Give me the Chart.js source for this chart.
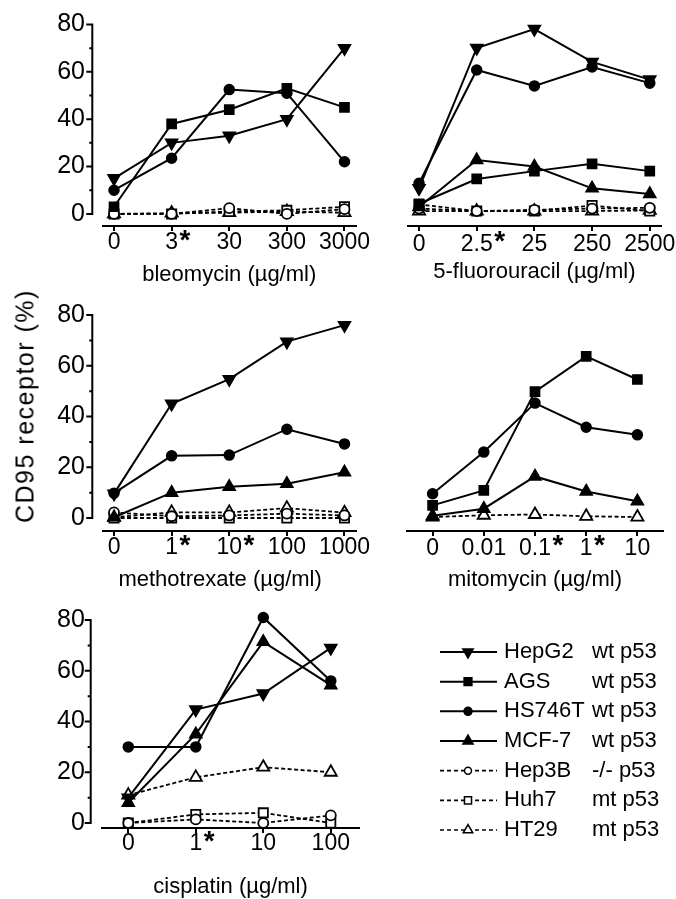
<!DOCTYPE html>
<html>
<head>
<meta charset="utf-8">
<script src="https://cdn.jsdelivr.net/npm/chart.js@4.4.1/dist/chart.umd.min.js"></script>
<style>
  html, body { margin: 0; padding: 0; background: #fff; }
  body { width: 676px; height: 899px; position: relative; overflow: hidden; }
  canvas { position: absolute; }
  #ylab {
    position: absolute; left: 25px; top: 406px;
    font-family: 'Liberation Sans', Arial, sans-serif; font-size: 25px; letter-spacing: 1.5px;
    white-space: nowrap; color: #000;
    transform: translate(-50%, -50%) rotate(-90deg);
  }
</style>
</head>
<body>
<canvas id="bleo"></canvas>
<canvas id="fu"></canvas>
<canvas id="mtx"></canvas>
<canvas id="mito"></canvas>
<canvas id="cis"></canvas>
<div id="ylab">CD95 receptor (%)</div>
<script>
// cell lines, in legend order
var lines = ['HepG2', 'AGS', 'HS746T', 'MCF-7', 'Hep3B', 'Huh7', 'HT29'];
var p53 = ['wt p53', 'wt p53', 'wt p53', 'wt p53', '-/- p53', 'mt p53', 'mt p53'];

// dose labels per drug, starred doses by index
var bleoDoses = ['0', '3', '30', '300', '3000'];
var bleoStars = [1];
var fuDoses = ['0', '2.5', '25', '250', '2500'];
var fuStars = [1];
var mtxDoses = ['0', '1', '10', '100', '1000'];
var mtxStars = [1, 2];
var mitoDoses = ['0', '0.01', '0.1', '1', '10'];
var mitoStars = [2, 3];
var cisDoses = ['0', '1', '10', '100'];
var cisStars = [1];

// CD95 receptor (%) per cell line, same order as lines (null = not tested)
var bleoValues = [
  [15, 30, 33, 40, 70],
  [3, 38, 44, 53, 45],
  [10, 23.5, 52.5, 51, 22],
  null,
  [0, 0, 2.4, 0, 2],
  [0, 0, 1, 1.5, 3],
  [0, 0.3, 0.5, 1, 0.5]
];
var fuValues = [
  [9, 64.5, 72, 59, 52],
  [2.9, 12.7, 15.8, 18.7, 15.8],
  [11, 55.8, 49.5, 57, 50.6],
  [1.6, 20.2, 17.6, 9, 6.8],
  [1, 0, 0.5, 1, 1.3],
  [2.6, 0, 0, 2.2, 0],
  [0, 0, 0, 0, 0.3]
];
var mtxValues = [
  [9.6, 45, 54.7, 69.5, 76],
  null,
  [9.8, 24.5, 24.8, 35, 29.2],
  [0.3, 10, 12.3, 13.5, 18],
  [2.2, 0.7, 1, 1.7, 1],
  [0, 0, 0, 0, 0],
  [0.3, 2.2, 2.2, 3.9, 2.1]
];
var mitoValues = [
  null,
  [4.6, 10.5, 49.4, 63.3, 54.2],
  [9.2, 25.6, 44.9, 35.4, 32.4],
  [0.5, 3.3, 16, 10.1, 6.2],
  null,
  null,
  [0, 0.7, 1, 0.3, 0]
];
var cisValues = [
  [10, 44.7, 51, 69],
  null,
  [30, 30, 81, 56],
  [8, 35, 71.4, 54.3],
  [0, 1.4, 0, 3],
  [0, 3.4, 4, 0],
  [11, 18, 22, 20]
];

var FONT = "'Liberation Sans', Arial, sans-serif";

// marker look for each cell line
var styles = [
  { pointStyle: 'triangle', rotation: 180, radius: 7, fill: true, dashed: false },
  { pointStyle: 'rect', rotation: 0, radius: 6.5, fill: true, dashed: false },
  { pointStyle: 'circle', rotation: 0, radius: 5, fill: true, dashed: false },
  { pointStyle: 'triangle', rotation: 0, radius: 7, fill: true, dashed: false },
  { pointStyle: 'circle', rotation: 0, radius: 5, fill: false, dashed: true },
  { pointStyle: 'rect', rotation: 0, radius: 6.5, fill: false, dashed: true },
  { pointStyle: 'triangle', rotation: 0, radius: 7, fill: false, dashed: true }
];

// detached y axis with major/minor ticks
var yAxisLine = {
  id: 'yAxisLine',
  beforeDatasetsDraw: function(chart, args, opts) {
    if (!opts.show) return;
    var y = chart.scales.y, ctx = chart.ctx;
    var x0 = chart.chartArea.left - opts.gap;
    ctx.save();
    ctx.strokeStyle = '#000';
    ctx.lineWidth = 2;
    ctx.beginPath();
    ctx.moveTo(x0, y.getPixelForValue(0) + 1);
    ctx.lineTo(x0, y.getPixelForValue(80) - 1);
    for (var v = 0; v <= 80; v += 10) {
      var py = y.getPixelForValue(v);
      ctx.moveTo(x0 + 1, py);
      ctx.lineTo(x0 - (v % 20 === 0 ? 6 : 3), py);
    }
    ctx.stroke();
    ctx.restore();
  }
};

// bold asterisk after significant doses
var starMarks = {
  id: 'starMarks',
  afterDraw: function(chart, args, opts) {
    var sc = chart.scales.x, ctx = chart.ctx;
    ctx.save();
    ctx.fillStyle = '#000';
    ctx.textBaseline = 'middle';
    ctx.textAlign = 'left';
    opts.stars.forEach(function(i) {
      ctx.font = opts.size + 'px ' + FONT;
      var w = ctx.measureText(opts.labels[i]).width;
      var x = sc.getPixelForValue(i) + w / 2 + 1.5;
      ctx.font = 'bold 28px ' + FONT;
      ctx.fillText('*', x, opts.y);
    });
    ctx.restore();
  }
};

// legend drawn next to the cisplatin panel
var sideLegend = {
  id: 'sideLegend',
  afterDraw: function(chart, args, opts) {
    if (!opts.show) return;
    var ctx = chart.ctx;
    ctx.save();
    lines.forEach(function(name, i) {
      var st = styles[i];
      var y = opts.y0 + i * opts.step;
      ctx.strokeStyle = '#000';
      ctx.lineWidth = st.dashed ? 1.7 : 2;
      ctx.setLineDash(st.dashed ? [4, 3] : []);
      ctx.beginPath();
      ctx.moveTo(440, y);
      ctx.lineTo(497, y);
      ctx.stroke();
      ctx.setLineDash([]);
      ctx.fillStyle = st.fill ? '#000' : '#fff';
      ctx.lineWidth = 1.5;
      Chart.helpers.drawPoint(ctx, {
        pointStyle: st.pointStyle, rotation: st.rotation,
        radius: st.fill ? st.radius - 1 : st.radius - 1.5, borderWidth: 1.5
      }, 468, y);
      ctx.fillStyle = '#000';
      ctx.font = '22px ' + FONT;
      ctx.textBaseline = 'middle';
      ctx.fillText(name, 504, y);
      ctx.fillText(p53[i], 592, y);
    });
    ctx.restore();
  }
};

function makePanel(id, p) {
  var el = document.getElementById(id);
  el.width = p.w; el.height = p.h;
  el.style.left = p.left + 'px'; el.style.top = p.top + 'px';
  el.style.width = p.w + 'px'; el.style.height = p.h + 'px';

  var datasets = [];
  p.values.forEach(function(vals, i) {
    if (!vals) return;
    var st = styles[i];
    datasets.push({
      label: lines[i],
      data: vals.map(function(v, k) { return { x: k, y: v }; }),
      borderColor: '#000',
      borderWidth: st.dashed ? 1.8 : 2,
      borderDash: st.dashed ? [4, 2.5] : [],
      pointStyle: st.pointStyle,
      rotation: st.rotation,
      pointRadius: st.radius,
      pointBackgroundColor: st.fill ? '#000' : '#fff',
      pointBorderColor: '#000',
      pointBorderWidth: st.fill ? 1.5 : 1.8,
      tension: 0,
      clip: false
    });
  });

  var tickSize = 23;
  new Chart(el, {
    type: 'line',
    data: { datasets: datasets },
    plugins: [yAxisLine, starMarks, sideLegend],
    options: {
      responsive: false,
      animation: false,
      events: [],
      layout: { padding: { left: p.padL, right: p.padR, top: p.padT, bottom: 0 } },
      plugins: {
        legend: { display: false },
        tooltip: { enabled: false },
        yAxisLine: { show: p.showY, gap: p.gap },
        starMarks: { stars: p.stars, labels: p.labels, size: tickSize, y: p.starY - p.top },
        sideLegend: { show: !!p.legend, y0: 652 - p.top, step: 29.67 }
      },
      scales: {
        x: {
          type: 'linear',
          min: p.xMin, max: p.xMax,
          afterBuildTicks: function(s) { s.ticks = p.labels.map(function(l, i) { return { value: i }; }); },
          afterFit: function(s) { s.height = p.xH; },
          grid: { display: true, drawOnChartArea: false, drawTicks: true, tickLength: 5, color: '#000', lineWidth: 2 },
          border: { display: true, color: '#000', width: 2 },
          ticks: {
            autoSkip: false, maxRotation: 0, minRotation: 0, padding: p.tickPad, color: '#000',
            font: { family: FONT, size: tickSize },
            callback: function(v) { return p.labels[v] !== undefined ? p.labels[v] : ''; }
          },
          title: {
            display: true, text: p.title, color: '#000',
            font: { family: FONT, size: 22 },
            padding: { top: 0, bottom: p.titlePad }
          }
        },
        y: {
          display: p.showY,
          min: p.yMin, max: 80,
          afterBuildTicks: function(s) { s.ticks = [0, 20, 40, 60, 80].map(function(v) { return { value: v }; }); },
          afterFit: function(s) { s.width = p.yW; },
          grid: { display: false },
          border: { display: false },
          ticks: { padding: 9.5, color: '#000', font: { family: FONT, size: 25 } }
        }
      }
    }
  });
}

makePanel('bleo', {
  left: 0, top: 0, w: 380, h: 292, padL: 0, padR: 24, padT: 10, yW: 102.5, xH: 66,
  xMin: -0.2, xMax: 4.2, yMin: -5.12, showY: true, gap: 10.2,
  labels: bleoDoses, stars: bleoStars, values: bleoValues,
  title: 'bleomycin (µg/ml)', titlePad: 3.8, tickPad: -2, starY: 241
});
makePanel('fu', {
  left: 380, top: 0, w: 296, h: 289, padL: 27.5, padR: 14.5, padT: 8, yW: 0, xH: 63,
  xMin: -0.2, xMax: 4.2, yMin: -5.9, showY: false, gap: 0,
  labels: fuDoses, stars: fuStars, values: fuValues,
  title: '5-fluorouracil (µg/ml)', titlePad: 3.8, tickPad: 0, starY: 242
});
makePanel('mtx', {
  left: 0, top: 290, w: 380, h: 307, padL: 0, padR: 24, padT: 25, yW: 102.5, xH: 66,
  xMin: -0.2, xMax: 4.2, yMin: -5.12, showY: true, gap: 10.2,
  labels: mtxDoses, stars: mtxStars, values: mtxValues,
  title: 'methotrexate (µg/ml)\u00a0\u00a0\u00a0', titlePad: 3.8, tickPad: -2, starY: 546
});
makePanel('mito', {
  left: 380, top: 290, w: 296, h: 307, padL: 27, padR: 13, padT: 24, yW: 0, xH: 66,
  xMin: -0.5, xMax: 4.5, yMin: -5.5, showY: false, gap: 0,
  labels: mitoDoses, stars: mitoStars, values: mitoValues,
  title: 'mitomycin (µg/ml)', titlePad: 3.8, tickPad: -1, starY: 546
});
makePanel('cis', {
  left: 0, top: 592, w: 676, h: 307, padL: 0, padR: 317.2, padT: 28, yW: 102.3, xH: 71,
  xMin: -0.385, xMax: 3.415, yMin: -1.97, showY: true, gap: 11.6,
  labels: cisDoses, stars: cisStars, values: cisValues,
  title: 'cisplatin (µg/ml)', titlePad: -1, tickPad: -3, starY: 842, legend: true
});
</script>
</body>
</html>
